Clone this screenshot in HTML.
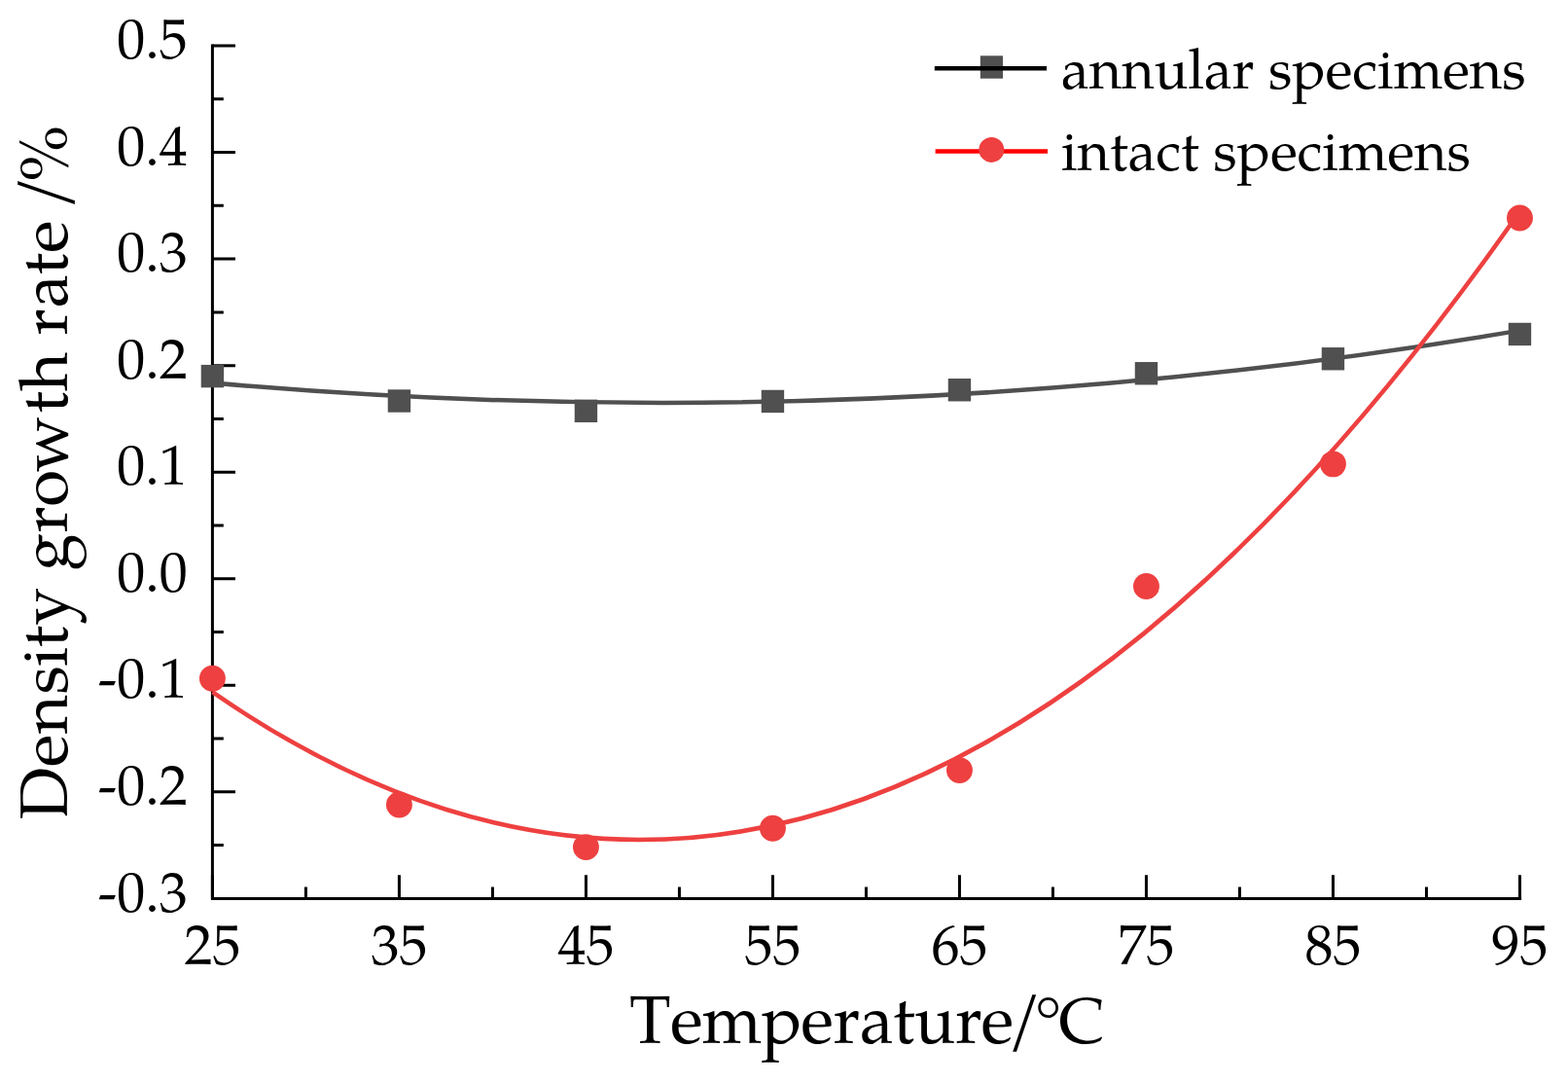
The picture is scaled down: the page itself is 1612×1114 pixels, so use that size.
<!DOCTYPE html>
<html><head><meta charset="utf-8"><title>Density growth rate vs Temperature</title>
<style>html,body{margin:0;padding:0;background:#fff}svg{display:block}text{font-kerning:none}</style></head>
<body><svg width="1612" height="1114" viewBox="0 0 1612 1114" font-family="'TeX Gyre Pagella','Palatino Linotype','Book Antiqua',Palatino,'Liberation Serif',serif" fill="#000">
<rect width="1612" height="1114" fill="#fff"/>
<path d="M218.4,45.5V923.5H1564.1" fill="none" stroke="#000" stroke-width="3.0" stroke-linejoin="miter"/>
<path d="M218.40,47.00H242 M218.40,156.55H242 M218.40,266.10H242 M218.40,375.65H242 M218.40,485.20H242 M218.40,594.75H242 M218.40,704.30H242 M218.40,813.85H242 M218.40,923.40H242 M218.40,101.78H229.8 M218.40,211.32H229.8 M218.40,320.88H229.8 M218.40,430.43H229.8 M218.40,539.98H229.8 M218.40,649.52H229.8 M218.40,759.08H229.8 M218.40,868.62H229.8 M218.40,923.5V899.3 M410.41,923.5V899.3 M602.42,923.5V899.3 M794.43,923.5V899.3 M986.44,923.5V899.3 M1178.45,923.5V899.3 M1370.46,923.5V899.3 M1562.47,923.5V899.3 M314.40,923.5V911.4 M506.41,923.5V911.4 M698.42,923.5V911.4 M890.44,923.5V911.4 M1082.44,923.5V911.4 M1274.46,923.5V911.4 M1466.47,923.5V911.4" stroke="#000" stroke-width="3.0"/>
<g font-size="58"><text x="192.7" y="60.1" text-anchor="end">0.5</text><text x="192.7" y="169.7" text-anchor="end">0.4</text><text x="192.7" y="279.2" text-anchor="end">0.3</text><text x="192.7" y="388.8" text-anchor="end">0.2</text><text x="192.7" y="498.3" text-anchor="end">0.1</text><text x="192.7" y="607.9" text-anchor="end">0.0</text><text x="192.7" y="717.4" text-anchor="end">-0.1</text><text x="192.7" y="827.0" text-anchor="end">-0.2</text><text x="192.7" y="936.5" text-anchor="end">-0.3</text></g>
<g font-size="58"><text x="218.4" y="990.8" text-anchor="middle">25</text><text x="410.4" y="990.8" text-anchor="middle">35</text><text x="602.4" y="990.8" text-anchor="middle">45</text><text x="794.4" y="990.8" text-anchor="middle">55</text><text x="986.4" y="990.8" text-anchor="middle">65</text><text x="1178.5" y="990.8" text-anchor="middle">75</text><text x="1370.5" y="990.8" text-anchor="middle">85</text><text x="1562.5" y="990.8" text-anchor="middle">95</text></g>
<text x="646.95 689.28 721.75 782.77 823.53 856.87 883.92 918.00 940.23 982.37 1008.63" y="1072.2" font-size="69.5">Temperature<tspan x="1035.2" dy="-2.5" font-size="73.75">/</tspan><tspan x="1063.85" dy="3.7">°</tspan><tspan x="1088.4" dy="-1.2" font-size="66.6">C</tspan></text>
<text transform="translate(68.7,843) rotate(-90)" x="0.88 54.95 88.76 129.48 158.13 177.64 200.52 238.88 256.63 295.57 322.36 358.12 418.24 441.06 481.22 498.52 526.85 560.44 583.25 616.30" y="0" font-size="69">Density growth rate <tspan x="626.98" dy="-2.9" font-size="73.75">/</tspan><tspan x="656.29" dy="2.9">%</tspan></text>
<path d="M218.40,393.46 Q890.43,453.04 1562.47,339.64" fill="none" stroke="#505050" stroke-width="4.5"/>
<g fill="#505050"><rect x="206.70" y="374.91" width="23.4" height="23.4"/><rect x="398.71" y="400.32" width="23.4" height="23.4"/><rect x="590.72" y="410.62" width="23.4" height="23.4"/><rect x="782.73" y="400.76" width="23.4" height="23.4"/><rect x="974.74" y="389.04" width="23.4" height="23.4"/><rect x="1166.75" y="372.06" width="23.4" height="23.4"/><rect x="1358.76" y="357.05" width="23.4" height="23.4"/><rect x="1550.77" y="331.74" width="23.4" height="23.4"/></g>
<path d="M218.40,711.18 Q890.43,1176.08 1562.47,217.31" fill="none" stroke="#ee4040" stroke-width="4.5"/>
<g fill="#ee4040"><circle cx="218.40" cy="697.18" r="13.45"/><circle cx="410.41" cy="827.00" r="13.45"/><circle cx="602.42" cy="870.60" r="13.45"/><circle cx="794.43" cy="851.21" r="13.45"/><circle cx="986.44" cy="791.61" r="13.45"/><circle cx="1178.45" cy="602.53" r="13.45"/><circle cx="1370.46" cy="476.87" r="13.45"/><circle cx="1562.47" cy="224.03" r="13.45"/></g>
<rect x="1007.8" y="57.3" width="23.2" height="23.4" fill="#505050"/>
<path d="M960.8,70.2H1076" stroke="#000" stroke-width="4.6"/>
<path d="M961.6,155.5H1077" stroke="#ff0000" stroke-width="4.6"/>
<circle cx="1019.3" cy="153.9" r="13" fill="#ee4040"/>
<g font-size="57.5"><text x="1091" y="90.6" textLength="477.6">annular specimens</text><text x="1091.1" y="175.1" textLength="420.8">intact specimens</text></g>
</svg></body></html>
